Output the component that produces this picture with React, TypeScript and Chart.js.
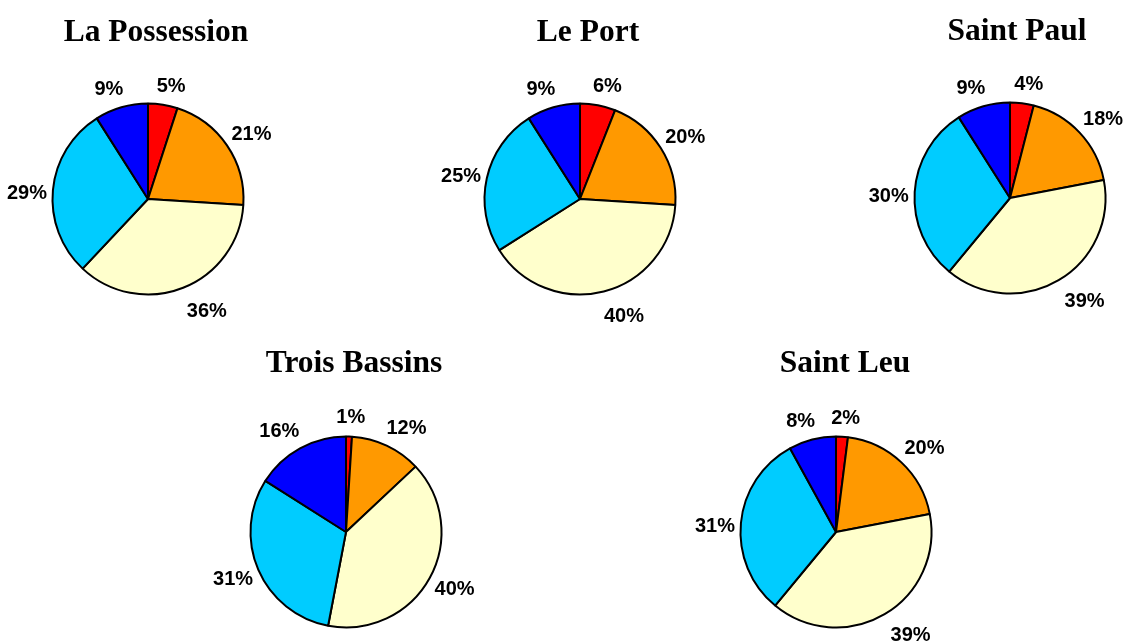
import React, { useEffect, useRef } from "react";
import { Chart, registerables } from "chart.js";

Chart.register(...registerables);

// ---- Data ----
const categories = ["Classe 1", "Classe 2", "Classe 3", "Classe 4", "Classe 5"];
const titles = ["La Possession", "Le Port", "Saint Paul", "Trois Bassins", "Saint Leu"];
const laPossession = [5, 21, 36, 29, 9];
const lePort = [6, 20, 40, 25, 9];
const saintPaul = [4, 18, 39, 30, 9];
const troisBassins = [1, 12, 40, 31, 16];
const saintLeu = [2, 20, 39, 31, 8];
const seriesList = [laPossession, lePort, saintPaul, troisBassins, saintLeu];
const colors = ["#FF0000", "#FF9900", "#FFFFCC", "#00CCFF", "#0000FF"];

// ---- Layout ----
const centers: [number, number][] = [
  [147.5, 198.5],
  [579.7, 199],
  [1010.3, 198],
  [345.7, 532],
  [835.5, 532],
];
const titleOffsets: [number, number][] = [
  [8, -158.5],
  [8, -158.5],
  [7, -158.5],
  [8, -160],
  [9, -160],
];
const RADIUS = 95.5;
const CW = 340;
const CH = 400;

const labelPlugin = {
  id: "outsideLabels",
  afterDatasetsDraw(chart: any) {
    const ctx = chart.ctx;
    const meta = chart.getDatasetMeta(0);
    const data = chart.data.datasets[0].data as number[];
    ctx.save();
    ctx.font = "bold 20px 'Liberation Sans', Arial, sans-serif";
    ctx.fillStyle = "#000";
    ctx.textAlign = "center";
    ctx.textBaseline = "middle";
    meta.data.forEach((arc: any, i: number) => {
      const p = arc.getProps(["x", "y", "startAngle", "endAngle", "outerRadius"], true);
      const mid = (p.startAngle + p.endAngle) / 2;
      const ux = Math.cos(mid);
      const uy = Math.sin(mid);
      const txt = data[i] + "%";
      const hw = ctx.measureText(txt).width / 2;
      const hh = 9;
      const gy = 13 + 3.4 * uy;
      let lx = p.x + (p.outerRadius + 9) * ux + hw * 0.85 * Math.tanh(4 * ux);
      let ly = p.y + (p.outerRadius + gy + hh) * uy;
      lx += 5 * Math.max(0, Math.min(1, (uy - 0.7) / 0.15));
      ly += 6 * Math.max(0, Math.min(1, (-ux - 0.95) / 0.05));
      ctx.fillText(txt, lx, ly);
    });
    ctx.restore();
  },
};

const titlePlugin = {
  id: "pieTitle",
  afterDraw(chart: any) {
    const opts = chart.options.plugins.pieTitle;
    if (!opts) return;
    const meta = chart.getDatasetMeta(0);
    const arc = meta.data[0];
    if (!arc) return;
    const ctx = chart.ctx;
    ctx.save();
    ctx.font = "bold 31.5px 'Liberation Serif', 'Times New Roman', serif";
    ctx.fillStyle = "#000";
    ctx.textAlign = "center";
    ctx.textBaseline = "alphabetic";
    ctx.fillText(opts.text, arc.x + opts.dx, arc.y + opts.dy);
    ctx.restore();
  },
};

function PieChart({ idx }: { idx: number }) {
  const ref = useRef<HTMLCanvasElement | null>(null);
  useEffect(() => {
    if (!ref.current) return;
    const chart = new Chart(ref.current, {
      type: "pie",
      data: {
        labels: categories,
        datasets: [
          {
            data: seriesList[idx],
            backgroundColor: colors,
            borderColor: "#000000",
            borderWidth: 2,
          },
        ],
      },
      options: {
        responsive: false,
        maintainAspectRatio: false,
        animation: false,
        radius: RADIUS,
        layout: { padding: 0 },
        plugins: {
          legend: { display: false },
          tooltip: { enabled: false },
          title: { display: false },
          pieTitle: { text: titles[idx], dx: titleOffsets[idx][0], dy: titleOffsets[idx][1] },
        } as any,
      } as any,
      plugins: [labelPlugin, titlePlugin],
    });
    return () => chart.destroy();
  }, [idx]);
  const [cx, cy] = centers[idx];
  return (
    <canvas
      ref={ref}
      width={CW}
      height={CH}
      style={{
        position: "absolute",
        left: cx - CW / 2,
        top: cy - CH / 2,
        width: CW,
        height: CH,
      }}
    />
  );
}

export default function App() {
  return (
    <div
      style={{
        position: "absolute",
        left: 0,
        top: 0,
        width: 1126,
        height: 644,
        overflow: "hidden",
        background: "#ffffff",
      }}
    >
      {seriesList.map((_, i) => (
        <PieChart key={i} idx={i} />
      ))}
    </div>
  );
}
